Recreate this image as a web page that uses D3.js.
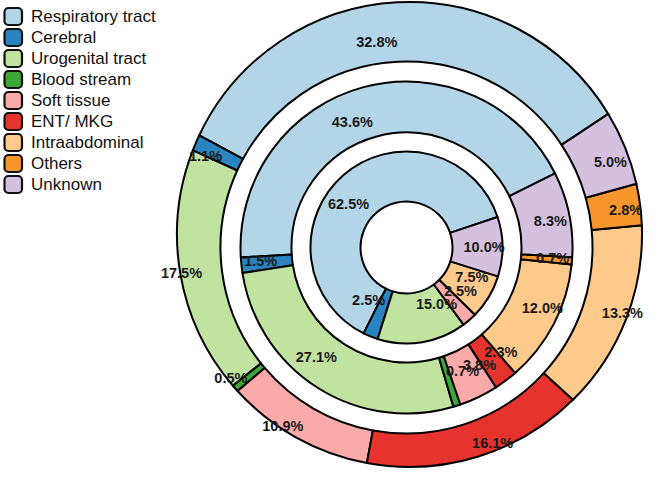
<!DOCTYPE html>
<html>
<head>
<meta charset="utf-8">
<script src="https://cdn.jsdelivr.net/npm/d3@7"></script>
<style>
  html, body { margin: 0; padding: 0; background: #fff; }
  svg { display: block; }
  text { font-family: "Liberation Sans", Arial, Helvetica, sans-serif; }
</style>
</head>
<body>
<svg id="chart" width="660" height="502"></svg>
<script>
const categories = ["Respiratory tract", "Cerebral", "Urogenital tract", "Blood stream",
                    "Soft tissue", "ENT/ MKG", "Intraabdominal", "Others", "Unknown"];
const colors = ["#b3d5e8", "#2a84c0", "#c0e3a0", "#3ca83a", "#f9aaa9",
                "#e6332d", "#fdca8c", "#f8952c", "#d4c1df"];
const innerValues  = [62.5, 2.5, 15.0, 0, 2.5, 0, 7.5, 0, 10.0];
const middleValues = [43.6, 1.5, 27.1, 0.7, 3.8, 2.3, 12.0, 0.7, 8.3];
const outerValues  = [32.8, 1.1, 17.5, 0.5, 10.9, 16.1, 13.3, 2.8, 5.0];

const svg = d3.select("#chart");
const cx = 406.5, cy = 247.5;
// outer edge of the outermost ring (slightly offset circle, as in the reference)
const ox = 409.5, oy = 234.5, oR = 232.5;
const rad = d => d * Math.PI / 180;

const rings = [
  { values: innerValues,  r0: 46,  r1: 96,  start: 18.5, labelR: 57 },
  { values: middleValues, r0: 115, r1: 166, start: 26.5, labelR: 130 },
  { values: outerValues,  r0: 186, r1: null, start: 33.5, labelR: 206 }
];

const color = d3.scaleOrdinal().domain(categories).range(colors);

function outerPath(d, r0) {
  const a0 = d.startAngle, a1 = d.endAngle;
  const pt = (r, a) => [cx + r * Math.sin(a), cy - r * Math.cos(a)];
  const hit = a => {
    const ux = Math.sin(a), uy = -Math.cos(a);
    const dx = cx - ox, dy = cy - oy;
    const b = ux * dx + uy * dy;
    const t = -b + Math.sqrt(b * b - (dx * dx + dy * dy) + oR * oR);
    return [cx + t * ux, cy + t * uy];
  };
  const i0 = pt(r0, a0), o0 = hit(a0), o1 = hit(a1), i1 = pt(r0, a1);
  const b0 = Math.atan2(o0[1] - oy, o0[0] - ox), b1 = Math.atan2(o1[1] - oy, o1[0] - ox);
  const p = d3.path();
  p.moveTo(i0[0], i0[1]);
  p.lineTo(o0[0], o0[1]);
  p.arc(ox, oy, oR, b0, b1, true);
  p.lineTo(i1[0], i1[1]);
  p.arc(cx, cy, r0, a1 - Math.PI / 2, a0 - Math.PI / 2, false);
  p.closePath();
  return p.toString();
}

const labelLayer = [];
rings.forEach(ring => {
  const s = rad(90 - ring.start);
  const pie = d3.pie().sort(null).value(d => d.v).startAngle(s).endAngle(s - 2 * Math.PI);
  const data = categories.map((c, i) => ({ c, v: ring.values[i] })).filter(d => d.v > 0);
  const arcs = pie(data);
  const g = svg.append("g");
  if (ring.r1 !== null) {
    const arc = d3.arc().innerRadius(ring.r0).outerRadius(ring.r1);
    g.attr("transform", `translate(${cx},${cy})`)
      .selectAll("path").data(arcs).join("path")
      .attr("d", arc)
      .attr("fill", d => color(d.data.c))
      .attr("stroke", "#000").attr("stroke-width", 2).attr("stroke-linejoin", "round");
  } else {
    g.selectAll("path").data(arcs).join("path")
      .attr("d", d => outerPath(d, ring.r0))
      .attr("fill", d => color(d.data.c))
      .attr("stroke", "#000").attr("stroke-width", 2).attr("stroke-linejoin", "round");
  }
  arcs.forEach(d => labelLayer.push({ d, r: ring.labelR }));
});

svg.append("g").selectAll("text").data(labelLayer).join("text")
  .each(function (o) {
    const m = (o.d.startAngle + o.d.endAngle) / 2;
    d3.select(this)
      .attr("x", cx + o.r * Math.sin(m))
      .attr("y", cy - o.r * Math.cos(m))
      .attr("text-anchor", Math.sin(m) >= 0 ? "start" : "end");
  })
  .attr("dominant-baseline", "central")
  .attr("font-size", 14.5).attr("font-weight", "bold").attr("fill", "#1a1a1a")
  .text(o => o.d.data.v.toFixed(1) + "%");

// legend
const legend = svg.append("g");
const ly = d3.scalePoint().domain(categories).range([16.5, 184.5]);
const items = legend.selectAll("g").data(categories).join("g")
  .attr("transform", c => `translate(0,${ly(c)})`);
items.append("rect")
  .attr("x", 4.5).attr("y", -8.5).attr("width", 17.5).attr("height", 17)
  .attr("rx", 4).attr("ry", 4)
  .attr("fill", c => color(c)).attr("stroke", "#111").attr("stroke-width", 2.2);
items.append("text")
  .attr("x", 31).attr("y", 0).attr("dominant-baseline", "central")
  .attr("font-size", 17).attr("fill", "#111")
  .text(c => c);
</script>
</body>
</html>
